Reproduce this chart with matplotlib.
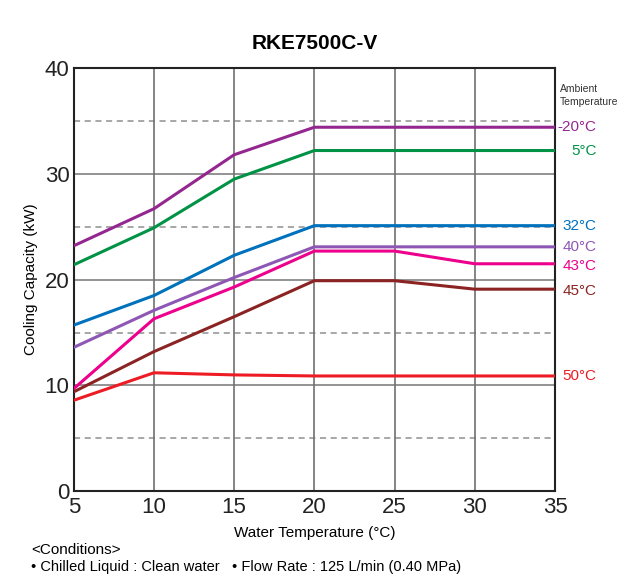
import matplotlib
matplotlib.use("Agg")
import matplotlib.pyplot as plt

plt.rcParams['font.family'] = ['Liberation Sans', 'DejaVu Sans']

water_temp = [5, 10, 15, 20, 25, 30, 35]

ambient_labels = ["-20°C", "5°C", "32°C", "40°C", "43°C", "45°C", "50°C"]
capacity = [
    [23.2, 26.7, 31.8, 34.4, 34.4, 34.4, 34.4],
    [21.4, 24.9, 29.5, 32.2, 32.2, 32.2, 32.2],
    [15.7, 18.5, 22.3, 25.1, 25.1, 25.1, 25.1],
    [13.6, 17.1, 20.2, 23.1, 23.1, 23.1, 23.1],
    [9.7, 16.3, 19.3, 22.7, 22.7, 21.5, 21.5],
    [9.4, 13.2, 16.5, 19.9, 19.9, 19.1, 19.1],
    [8.6, 11.2, 11.0, 10.9, 10.9, 10.9, 10.9],
]
colors = ["#93278f", "#009245", "#0071bc", "#8e57b5", "#ec008c", "#8b2323", "#ed1c24"]
label_y = [34.4, 32.2, 25.1, 23.1, 21.3, 18.9, 10.9]

fig = plt.figure(figsize=(6.25, 5.76), dpi=100)
ax = fig.add_axes([0.118, 0.147, 0.77, 0.735])

for y in [10, 20, 30]:
    ax.axhline(y, color="#808080", lw=1.2, zorder=1)
for y in [5, 15, 25, 35]:
    ax.axhline(y, color="#909090", lw=1.1, ls=(0, (4, 3)), zorder=1)
for x in [10, 15, 20, 25, 30]:
    ax.axvline(x, color="#707070", lw=1.2, zorder=1)

for vals, c in zip(capacity, colors):
    ax.plot(water_temp, vals, color=c, lw=2.2, zorder=3)

for lab, c, ly in zip(ambient_labels, colors, label_y):
    ax.text(37.6, ly, lab, color=c, fontsize=11, va="center", ha="right")

ax.text(35.3, 37.4, "Ambient\nTemperature", fontsize=7.5, color="#333333", va="center", ha="left",
        linespacing=1.4)

ax.set_xlim(5, 35)
ax.set_ylim(0, 40)
ax.set_xticks(water_temp)
ax.set_yticks([0, 10, 20, 30, 40])
ax.tick_params(axis="both", length=0, labelsize=16, colors="#222222")
ax.tick_params(axis="x", pad=4)
ax.tick_params(axis="y", pad=3)
for s in ax.spines.values():
    s.set_linewidth(1.5)
    s.set_color("#222222")

ax.set_xlabel("Water Temperature (°C)", fontsize=11, labelpad=6)
ax.set_ylabel("Cooling Capacity (kW)", fontsize=11)
ax.yaxis.set_label_coords(-0.075, 0.5)
ax.set_title("RKE7500C-V", fontsize=15, fontweight="bold", pad=14)

fig.text(0.05, 0.038, "<Conditions>", fontsize=11)
fig.text(0.05, 0.008, "• Chilled Liquid : Clean water   • Flow Rate : 125 L/min (0.40 MPa)", fontsize=10.5)

fig.savefig("out.png", dpi=100)
